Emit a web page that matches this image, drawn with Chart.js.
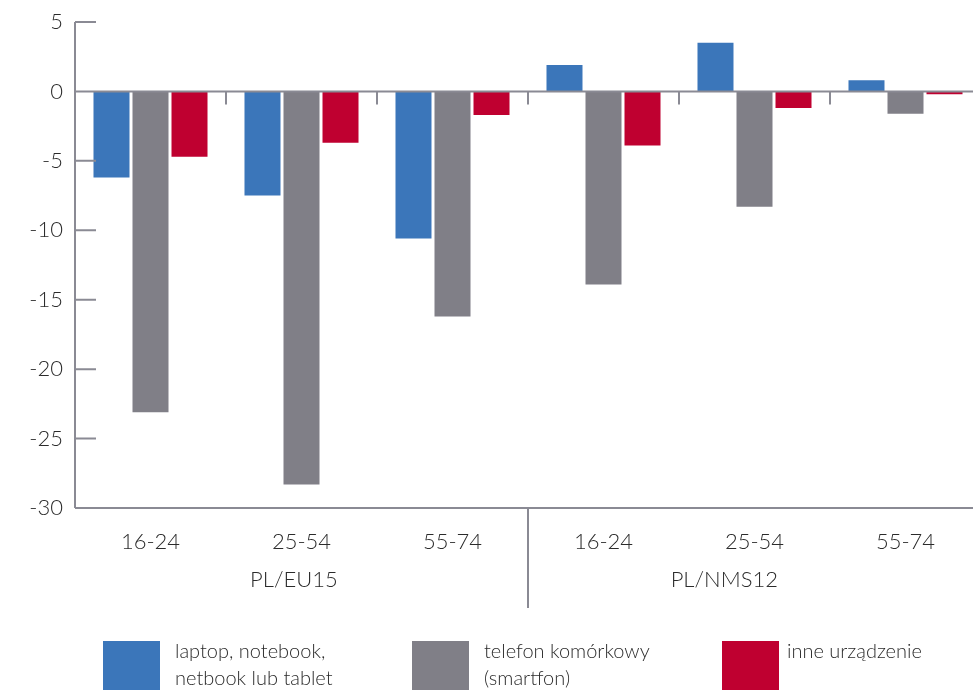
<!DOCTYPE html>
<html>
<head>
<meta charset="utf-8">
<script src="https://cdn.jsdelivr.net/npm/chart.js@4"></script>
<style>
    html, body { margin: 0; padding: 0; background: #fff; overflow: hidden; }
    #wrap { position: relative; width: 983px; height: 690px; }
    .legend { position: absolute; top: 641px; font-family: Lato, "Open Sans", sans-serif; font-weight: 300; font-size: 20px; line-height: 27px; color: #2b2b2b; }
    .legend .box { position: absolute; left: 0; top: 0; width: 57px; height: 49px; }
    .legend .txt { position: absolute; top: -4px; white-space: nowrap; }
</style>
</head>
<body>
<div id="wrap">
    <canvas id="myChart" width="983" height="690"></canvas>
    <div id="legend"></div>
</div>
<script>
var categories = ["16-24", "25-54", "55-74", "16-24", "25-54", "55-74"];
var groups = ["PL/EU15", "PL/NMS12"];
var laptop = [-6.2, -7.5, -10.6, 1.9, 3.5, 0.8];
var telefon = [-23.1, -28.3, -16.2, -13.9, -8.3, -1.6];
var inne = [-4.7, -3.7, -1.7, -3.9, -1.2, -0.2];
var yTicks = [5, 0, -5, -10, -15, -20, -25, -30];

var axisColor = "#8a8a94";
var textColor = "#2b2b2b";
var fontFamily = "Lato, 'Open Sans', sans-serif";

// axis lines, tick marks and group labels drawn by hand like the original
var axesPlugin = {
    id: "axesPlugin",
    afterDatasetsDraw: function (chart) {
        var c = chart.ctx;
        var x = chart.scales.x;
        var y = chart.scales.y;
        var area = chart.chartArea;
        c.save();
        c.strokeStyle = axisColor;
        c.lineWidth = 2;
        c.beginPath();
        // y axis
        c.moveTo(area.left, y.getPixelForValue(5));
        c.lineTo(area.left, y.getPixelForValue(-30));
        // short ticks on the inside
        yTicks.forEach(function (v) {
            var py = y.getPixelForValue(v);
            c.moveTo(area.left, py);
            c.lineTo(area.left + 21, py);
        });
        // zero line and bottom line
        var y0 = y.getPixelForValue(0);
        var yb = y.getPixelForValue(-30);
        c.moveTo(area.left, y0);
        c.lineTo(area.right, y0);
        c.moveTo(area.left, yb);
        c.lineTo(area.right, yb);
        // category boundary ticks on the zero line
        var step = x.getPixelForValue(1) - x.getPixelForValue(0);
        for (var i = 1; i < categories.length; i++) {
            var bx = x.getPixelForValue(i) - step / 2;
            c.moveTo(bx, y0);
            c.lineTo(bx, y0 + 13);
        }
        // separator between the two groups
        var sx = x.getPixelForValue(3) - step / 2;
        c.moveTo(sx, yb);
        c.lineTo(sx, yb + 100);
        c.stroke();

        c.fillStyle = textColor;
        c.font = "300 22px " + fontFamily;
        c.textAlign = "center";
        c.textBaseline = "middle";
        c.fillText(groups[0], x.getPixelForValue(0.95), yb + 72);
        c.fillText(groups[1], x.getPixelForValue(3.8), yb + 72);
        c.restore();
    }
};

var ctx = document.getElementById("myChart");
var myChart = new Chart(ctx, {
    type: "bar",
    data: {
        labels: categories,
        datasets: [{
                label: "laptop, notebook, netbook lub tablet",
                data: laptop,
                backgroundColor: "#3b76ba"
            },
            {
                label: "telefon komórkowy (smartfon)",
                data: telefon,
                backgroundColor: "#807f87"
            },
            {
                label: "inne urządzenie",
                data: inne,
                backgroundColor: "#bf0030"
            }
        ]
    },
    options: {
        responsive: false,
        animation: false,
        layout: { padding: { top: 22, right: 2, bottom: 82, left: 0 } },
        datasets: { bar: { categoryPercentage: 0.775, barPercentage: 0.923 } },
        plugins: { legend: { display: false }, tooltip: { enabled: false } },
        scales: {
            x: {
                grid: { display: false, drawTicks: false },
                border: { display: false },
                ticks: { color: textColor, padding: 21, font: { family: fontFamily, size: 22, weight: "300" } },
                afterFit: function (scale) { scale.height = 100; scale.paddingLeft = 0; scale.paddingRight = 0; }
            },
            y: {
                min: -30,
                max: 5,
                grid: { display: false, drawTicks: false },
                border: { display: false },
                afterBuildTicks: function (scale) {
                    scale.ticks = yTicks.map(function (v) { return { value: v }; });
                },
                ticks: { color: textColor, padding: 12, font: { family: fontFamily, size: 22, weight: "300" } },
                afterFit: function (scale) { scale.width = 75; scale.paddingTop = 0; scale.paddingBottom = 0; }
            }
        }
    },
    plugins: [axesPlugin]
});

// legend below the chart, with the two-line labels of the original
var legendLines = [["laptop, notebook,", "netbook lub tablet"], ["telefon komórkowy", "(smartfon)"], ["inne urządzenie"]];
var legendLeft = [103, 412, 722];
var legendTextGap = [72, 72, 65];
var html = "";
myChart.data.datasets.forEach(function (ds, i) {
    html += '<div class="legend" style="left:' + legendLeft[i] + 'px">' +
        '<div class="box" style="background:' + ds.backgroundColor + '"></div>' +
        '<div class="txt" style="left:' + legendTextGap[i] + 'px">' + legendLines[i].join("<br>") + '</div></div>';
});
document.getElementById("legend").innerHTML = html;
</script>
</body>
</html>
